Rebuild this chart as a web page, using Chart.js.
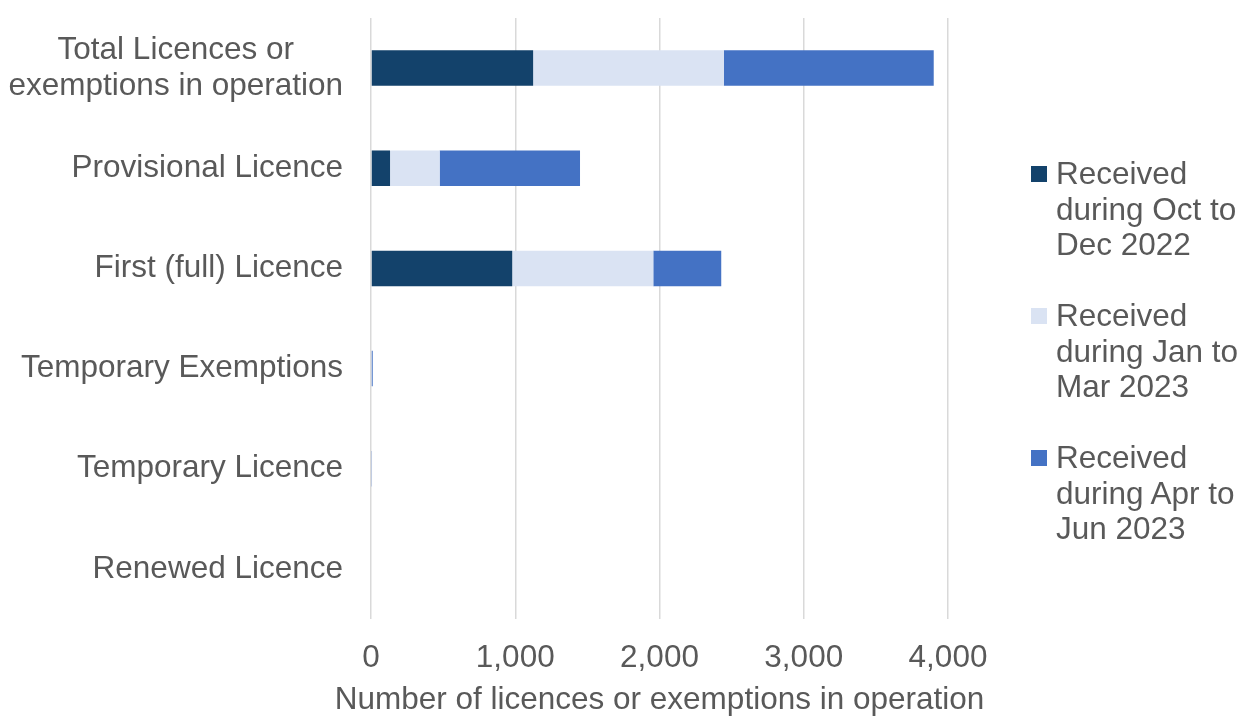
<!DOCTYPE html>
<html>
<head>
<meta charset="utf-8">
<script src="https://cdn.jsdelivr.net/npm/chart.js@4/dist/chart.umd.min.js"></script>
<style>
  html, body { margin: 0; padding: 0; background: #fff; }
  #wrap { position: relative; width: 1242px; height: 717px; }
  #legend {
    position: absolute; left: 1031px; top: 156px;
    font-family: "Liberation Sans", Arial, sans-serif; font-size: 31.5px;
    line-height: 35.5px; color: #595959;
  }
  .item { position: relative; padding-left: 25px; margin-bottom: 35.5px; }
  .swatch { position: absolute; left: 0; top: 10px; width: 16px; height: 16px; }
</style>
</head>
<body>
<div id="wrap">
  <canvas id="chart" width="1242" height="717"></canvas>
  <div id="legend"></div>
</div>
<script>
// categories, top to bottom
const categories = [
  ['Total Licences or', 'exemptions in operation'],
  'Provisional Licence',
  'First (full) Licence',
  'Temporary Exemptions',
  'Temporary Licence',
  'Renewed Licence'
]

const seriesLabels = [
  ['Received', 'during Oct to', 'Dec 2022'],
  ['Received', 'during Jan to', 'Mar 2023'],
  ['Received', 'during Apr to', 'Jun 2023']
]
const seriesColors = ['#13426b', '#dae3f3', '#4472c4']

const octDec = [1124, 132, 979, 0, 0, 0]
const janMar = [1322, 344, 978, 0, 0, 0]
const aprJun = [1455, 973, 471, 12, 7, 0]

const xTicks = [0, 1000, 2000, 3000, 4000]
const xTitle = 'Number of licences or exemptions in operation'

const textColor = '#595959'
const fontFamily = '"Liberation Sans", Arial, sans-serif'
const fontSize = 31.5

// y labels (block right-aligned, lines centred within it, like Excel) and x title at full width
const labelPlugin = {
  id: 'labels',
  afterDraw(chart) {
    const ctx = chart.ctx
    const yScale = chart.scales.y
    const xScale = chart.scales.x
    const right = 343
    const lh = 35.5
    ctx.save()
    ctx.font = `${fontSize}px ${fontFamily}`
    ctx.fillStyle = textColor
    ctx.textAlign = 'center'
    ctx.textBaseline = 'middle'
    categories.forEach((label, i) => {
      const lines = Array.isArray(label) ? label : [label]
      const w = Math.max(...lines.map(l => ctx.measureText(l).width))
      const y = yScale.getPixelForTick(i)
      lines.forEach((line, j) => {
        ctx.fillText(line, right - w / 2, y + (j - (lines.length - 1) / 2) * lh)
      })
    })
    ctx.fillText(xTitle, (xScale.left + xScale.right) / 2, xScale.bottom - 17)
    ctx.restore()
  }
}

const datasets = [octDec, janMar, aprJun].map((data, i) => ({
  label: seriesLabels[i].join(' '),
  data: data,
  backgroundColor: seriesColors[i],
  borderWidth: 0,
  barPercentage: 0.355,
  categoryPercentage: 1
}))

new Chart(document.getElementById('chart'), {
  type: 'bar',
  data: { labels: categories, datasets: datasets },
  options: {
    indexAxis: 'y',
    responsive: false,
    devicePixelRatio: 1,
    animation: false,
    layout: { padding: { top: 18, right: 294, left: 0, bottom: 0 } },
    plugins: { legend: { display: false }, tooltip: { enabled: false } },
    scales: {
      x: {
        stacked: true,
        min: 0,
        max: 4000,
        afterBuildTicks: (scale) => { scale.ticks = xTicks.map(v => ({ value: v })) },
        afterFit: (scale) => { scale.height = 98 },
        grid: { color: '#d9d9d9', lineWidth: 1.5, drawTicks: false },
        border: { display: false },
        ticks: {
          color: textColor,
          font: { family: fontFamily, size: fontSize },
          padding: 20,
          callback: (v) => v.toLocaleString('en-US')
        }
      },
      y: {
        stacked: true,
        afterFit: (scale) => { scale.width = 371 },
        grid: { display: false, drawTicks: false },
        border: { display: false },
        ticks: { display: false }
      }
    }
  },
  plugins: [labelPlugin]
})

// legend built from the series arrays
const legend = document.getElementById('legend')
seriesLabels.forEach((lines, i) => {
  const item = document.createElement('div')
  item.className = 'item'
  const sw = document.createElement('div')
  sw.className = 'swatch'
  sw.style.backgroundColor = seriesColors[i]
  item.appendChild(sw)
  lines.forEach(line => {
    const d = document.createElement('div')
    d.textContent = line
    item.appendChild(d)
  })
  legend.appendChild(item)
})
</script>
</body>
</html>
